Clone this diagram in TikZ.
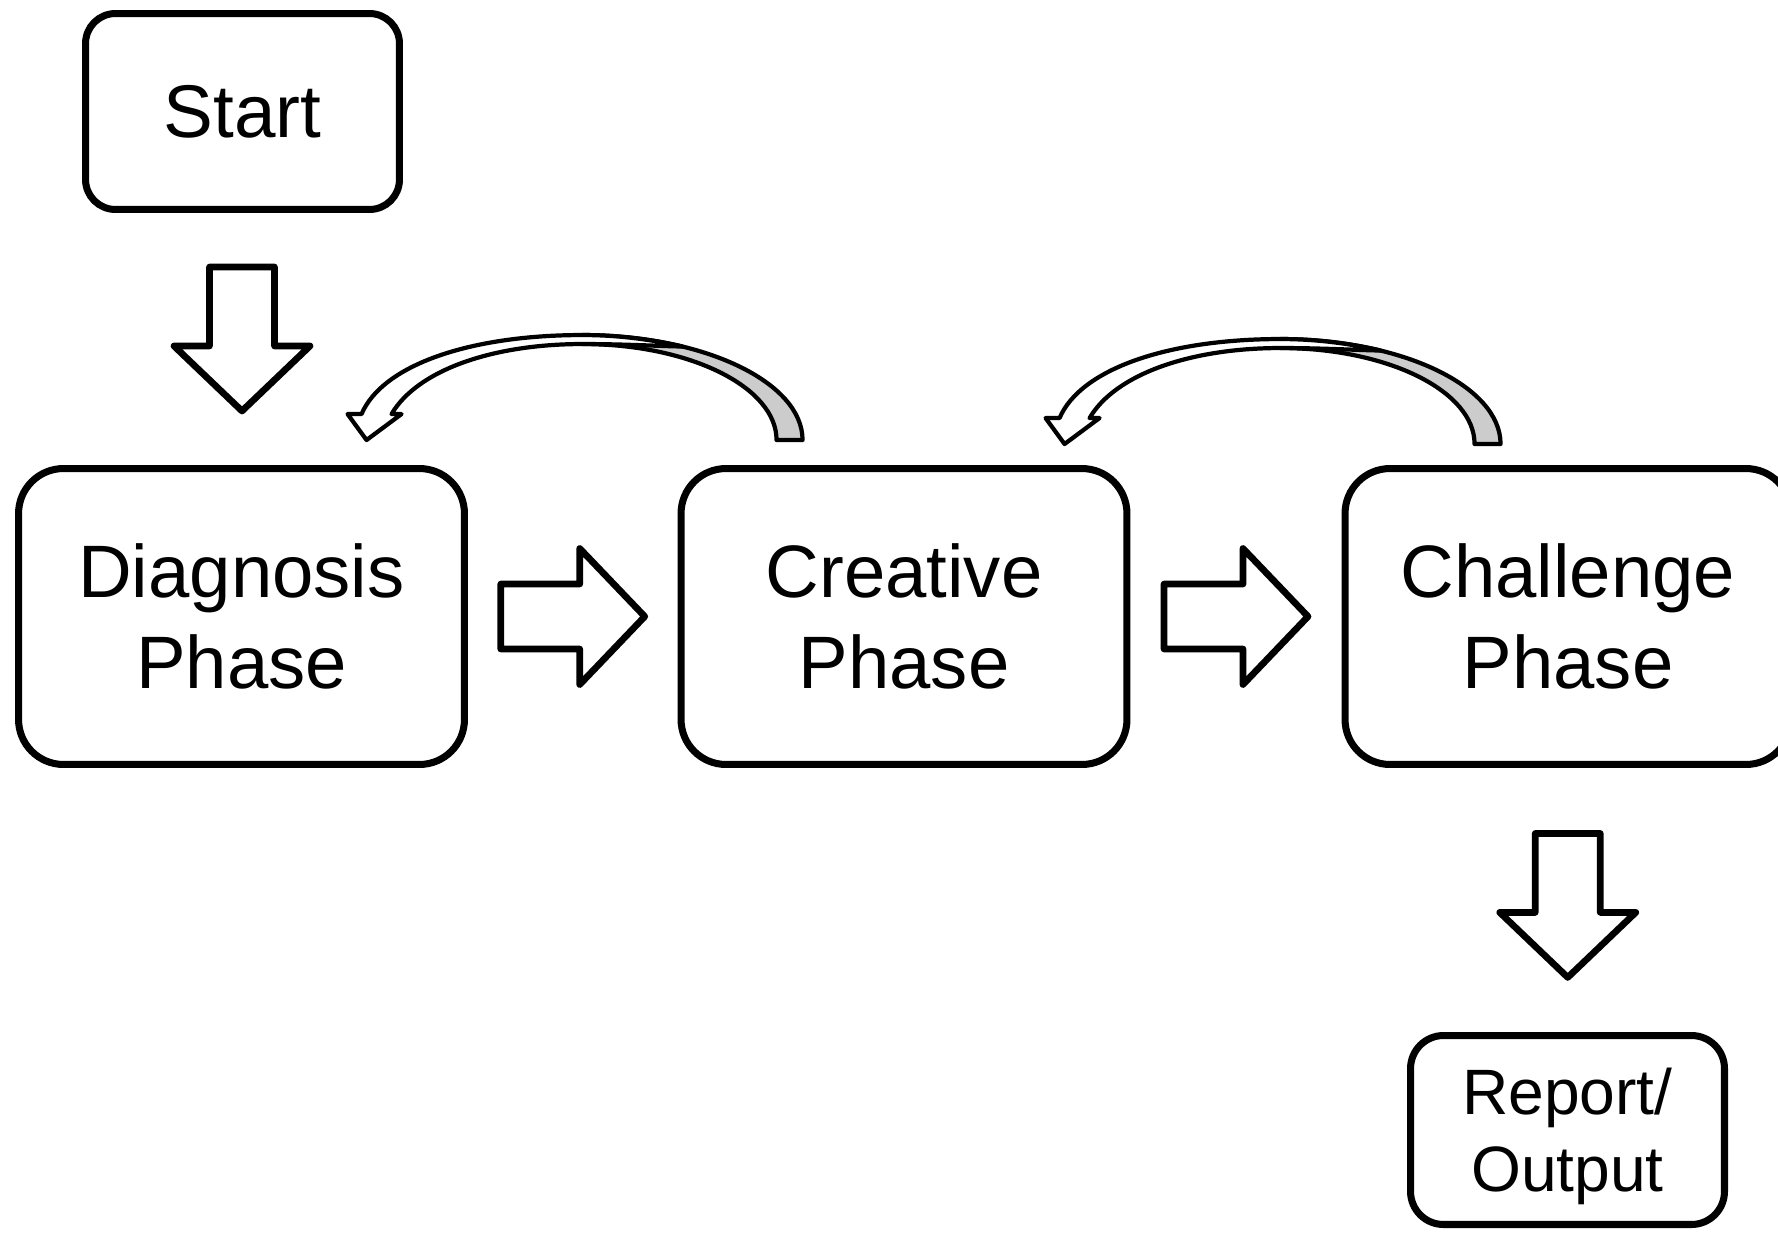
\documentclass[tikz,border=0pt]{standalone}
\usepackage{fontspec}
\setmainfont{Liberation Sans}
\usetikzlibrary{calc}
\tikzset{
  boxbase/.style={draw, line width=4pt, outer sep=0pt, align=center, inner sep=0pt},
  phasebox/.style={boxbase, rounded corners=0.9cm, minimum width=8.92cm, minimum height=5.92cm, font=\fontsize{42.3}{52.2}\selectfont},
  startbox/.style={boxbase, rounded corners=0.6cm, minimum width=6.28cm, minimum height=3.92cm, font=\fontsize{42.5}{52.2}\selectfont},
  reportbox/.style={boxbase, rounded corners=0.66cm, minimum width=6.28cm, minimum height=3.78cm, text depth=-4pt, font=\fontsize{36.5}{43.6}\selectfont},
  blockarrow/.style={draw, line width=3.8pt, line join=round, fill=white},
  curveline/.style={draw, line width=2.4pt, line join=round},
  pics/barrow/.style={code={
    \draw[blockarrow] (-72,-32.5) -- (7,-32.5) -- (7,-68) -- (72,0) -- (7,68) -- (7,32.5) -- (-72,32.5) -- cycle;}},
  pics/curvarrow/.style={code={
    \draw[curveline, fill=black!20] (220,0) .. controls (220,-58) and (121,-105) .. (0,-105) -- (0,-96) .. controls (107,-96) and (194,-53) .. (194,0) -- cycle;
    \draw[curveline, fill=white] (100,-93.5) .. controls (67,-101) and (34,-105) .. (0,-105) .. controls (-113,-105) and (-200,-75) .. (-221,-26) -- (-235,-26) -- (-216,0) -- (-181,-26) -- (-191,-26) .. controls (-165,-70) and (-90,-96) .. (0,-96) .. controls (40,-96) and (75,-94) .. (100,-93.5) -- cycle;}}
}
\begin{document}
\begin{tikzpicture}[x=0.02cm, y=-0.02cm]
  \useasboundingbox (0,0) rectangle (1778,1234);
  \clip (0,0) rectangle (1778,1234);
  \fill[white] (0,0) rectangle (1778,1234);
  \node[startbox] (start) at (242.5,111.5) {Start};
  \node[phasebox] (diag) at (241.5,616.5) {Diagnosis\\Phase};
  \node[phasebox] (crea) at (904,616.5) {Creative\\Phase};
  \node[phasebox] (chal) at (1568,616.5) {Challenge\\Phase};
  \node[reportbox] (rep) at (1567.5,1130) {Report/\\Output};
  \pic[rotate=-90] at ($(start.south)!0.5!(diag.north)$) {barrow};
  \pic at ($(diag.east)!0.5!(crea.west)$) {barrow};
  \pic at ($(crea.east)!0.5!(chal.west)$) {barrow};
  \pic[rotate=-90] at ($(chal.south)!0.52!(rep.north)$) {barrow};
  \pic at ($(crea.north west)+(-98.5,-28.5)$) {curvarrow};
  \pic at ($(chal.north west)+(-64.5,-24.5)$) {curvarrow};
\end{tikzpicture}
\end{document}
